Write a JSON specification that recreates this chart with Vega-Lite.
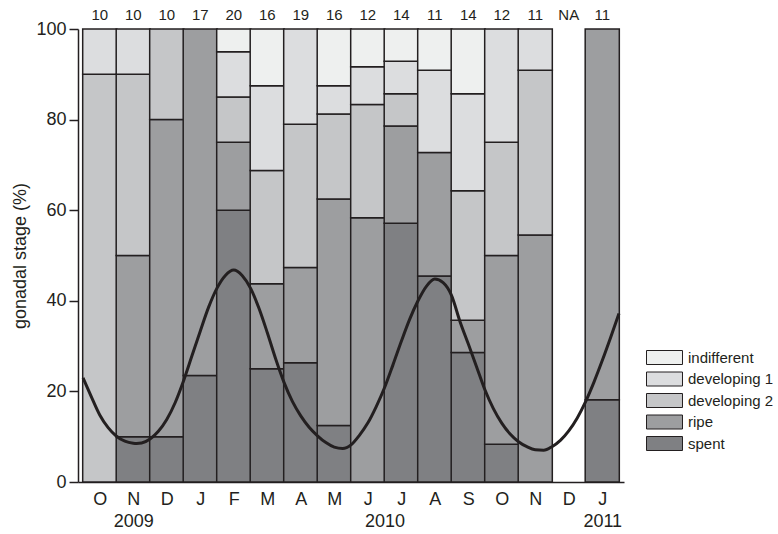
{
  "$schema": "https://vega.github.io/schema/vega-lite/v6.json",
  "width": 546,
  "height": 453,
  "autosize": {"type": "none"},
  "padding": {"left": 78, "top": 29, "right": 154, "bottom": 52},
  "background": "white",
  "config": {
    "font": "Liberation Sans",
    "view": {"stroke": null},
    "axis": {
      "labelFont": "Liberation Sans",
      "titleFont": "Liberation Sans",
      "labelColor": "#231f20",
      "titleColor": "#231f20",
      "domainColor": "#231f20",
      "tickColor": "#231f20",
      "grid": false,
      "labelFontSize": 18,
      "titleFontSize": 18,
      "titleFontWeight": "normal"
    },
    "legend": {"labelFont": "Liberation Sans"}
  },
  "datasets": {
    "stages": [
      {"month_no": 0, "stage": "developing 2", "stage_no": 3, "count": 9},
      {"month_no": 0, "stage": "developing 1", "stage_no": 2, "count": 1},
      {"month_no": 1, "stage": "spent", "stage_no": 5, "count": 1},
      {"month_no": 1, "stage": "ripe", "stage_no": 4, "count": 4},
      {"month_no": 1, "stage": "developing 2", "stage_no": 3, "count": 4},
      {"month_no": 1, "stage": "developing 1", "stage_no": 2, "count": 1},
      {"month_no": 2, "stage": "spent", "stage_no": 5, "count": 1},
      {"month_no": 2, "stage": "ripe", "stage_no": 4, "count": 7},
      {"month_no": 2, "stage": "developing 2", "stage_no": 3, "count": 2},
      {"month_no": 3, "stage": "spent", "stage_no": 5, "count": 4},
      {"month_no": 3, "stage": "ripe", "stage_no": 4, "count": 13},
      {"month_no": 4, "stage": "spent", "stage_no": 5, "count": 12},
      {"month_no": 4, "stage": "ripe", "stage_no": 4, "count": 3},
      {"month_no": 4, "stage": "developing 2", "stage_no": 3, "count": 2},
      {"month_no": 4, "stage": "developing 1", "stage_no": 2, "count": 2},
      {"month_no": 4, "stage": "indifferent", "stage_no": 1, "count": 1},
      {"month_no": 5, "stage": "spent", "stage_no": 5, "count": 4},
      {"month_no": 5, "stage": "ripe", "stage_no": 4, "count": 3},
      {"month_no": 5, "stage": "developing 2", "stage_no": 3, "count": 4},
      {"month_no": 5, "stage": "developing 1", "stage_no": 2, "count": 3},
      {"month_no": 5, "stage": "indifferent", "stage_no": 1, "count": 2},
      {"month_no": 6, "stage": "spent", "stage_no": 5, "count": 5},
      {"month_no": 6, "stage": "ripe", "stage_no": 4, "count": 4},
      {"month_no": 6, "stage": "developing 2", "stage_no": 3, "count": 6},
      {"month_no": 6, "stage": "developing 1", "stage_no": 2, "count": 4},
      {"month_no": 7, "stage": "spent", "stage_no": 5, "count": 2},
      {"month_no": 7, "stage": "ripe", "stage_no": 4, "count": 8},
      {"month_no": 7, "stage": "developing 2", "stage_no": 3, "count": 3},
      {"month_no": 7, "stage": "developing 1", "stage_no": 2, "count": 1},
      {"month_no": 7, "stage": "indifferent", "stage_no": 1, "count": 2},
      {"month_no": 8, "stage": "ripe", "stage_no": 4, "count": 7},
      {"month_no": 8, "stage": "developing 2", "stage_no": 3, "count": 3},
      {"month_no": 8, "stage": "developing 1", "stage_no": 2, "count": 1},
      {"month_no": 8, "stage": "indifferent", "stage_no": 1, "count": 1},
      {"month_no": 9, "stage": "spent", "stage_no": 5, "count": 8},
      {"month_no": 9, "stage": "ripe", "stage_no": 4, "count": 3},
      {"month_no": 9, "stage": "developing 2", "stage_no": 3, "count": 1},
      {"month_no": 9, "stage": "developing 1", "stage_no": 2, "count": 1},
      {"month_no": 9, "stage": "indifferent", "stage_no": 1, "count": 1},
      {"month_no": 10, "stage": "spent", "stage_no": 5, "count": 5},
      {"month_no": 10, "stage": "ripe", "stage_no": 4, "count": 3},
      {"month_no": 10, "stage": "developing 1", "stage_no": 2, "count": 2},
      {"month_no": 10, "stage": "indifferent", "stage_no": 1, "count": 1},
      {"month_no": 11, "stage": "spent", "stage_no": 5, "count": 4},
      {"month_no": 11, "stage": "ripe", "stage_no": 4, "count": 1},
      {"month_no": 11, "stage": "developing 2", "stage_no": 3, "count": 4},
      {"month_no": 11, "stage": "developing 1", "stage_no": 2, "count": 3},
      {"month_no": 11, "stage": "indifferent", "stage_no": 1, "count": 2},
      {"month_no": 12, "stage": "spent", "stage_no": 5, "count": 1},
      {"month_no": 12, "stage": "ripe", "stage_no": 4, "count": 5},
      {"month_no": 12, "stage": "developing 2", "stage_no": 3, "count": 3},
      {"month_no": 12, "stage": "developing 1", "stage_no": 2, "count": 3},
      {"month_no": 13, "stage": "ripe", "stage_no": 4, "count": 6},
      {"month_no": 13, "stage": "developing 2", "stage_no": 3, "count": 4},
      {"month_no": 13, "stage": "developing 1", "stage_no": 2, "count": 1},
      {"month_no": 15, "stage": "spent", "stage_no": 5, "count": 2},
      {"month_no": 15, "stage": "ripe", "stage_no": 4, "count": 9}
    ],
    "totals": [
      {"month_no": 0, "n": "10"}, {"month_no": 1, "n": "10"}, {"month_no": 2, "n": "10"},
      {"month_no": 3, "n": "17"}, {"month_no": 4, "n": "20"}, {"month_no": 5, "n": "16"},
      {"month_no": 6, "n": "19"}, {"month_no": 7, "n": "16"}, {"month_no": 8, "n": "12"},
      {"month_no": 9, "n": "14"}, {"month_no": 10, "n": "11"}, {"month_no": 11, "n": "14"},
      {"month_no": 12, "n": "12"}, {"month_no": 13, "n": "11"}, {"month_no": 14, "n": "NA"},
      {"month_no": 15, "n": "11"}
    ],
    "curve": [
      {"month_no": -0.5, "value": 23}, {"month_no": -0.25, "value": 18.8},
      {"month_no": 0.0, "value": 14.8}, {"month_no": 0.25, "value": 12.0},
      {"month_no": 0.5, "value": 10.1}, {"month_no": 0.75, "value": 9.0},
      {"month_no": 1.0, "value": 8.55}, {"month_no": 1.1, "value": 8.5},
      {"month_no": 1.25, "value": 8.6}, {"month_no": 1.5, "value": 9.5},
      {"month_no": 1.75, "value": 11.2}, {"month_no": 2.0, "value": 13.8},
      {"month_no": 2.25, "value": 17.5}, {"month_no": 2.5, "value": 22.3},
      {"month_no": 2.75, "value": 27.8}, {"month_no": 3.0, "value": 33.3},
      {"month_no": 3.25, "value": 38.6}, {"month_no": 3.5, "value": 42.8},
      {"month_no": 3.75, "value": 45.6}, {"month_no": 4.0, "value": 46.8},
      {"month_no": 4.25, "value": 45.6}, {"month_no": 4.5, "value": 42.8},
      {"month_no": 4.75, "value": 38.4}, {"month_no": 5.0, "value": 33.0},
      {"month_no": 5.25, "value": 27.2}, {"month_no": 5.5, "value": 22.0},
      {"month_no": 5.75, "value": 17.8}, {"month_no": 6.0, "value": 14.6},
      {"month_no": 6.25, "value": 12.1}, {"month_no": 6.5, "value": 10.2},
      {"month_no": 6.75, "value": 8.7}, {"month_no": 7.0, "value": 7.7},
      {"month_no": 7.25, "value": 7.4}, {"month_no": 7.5, "value": 8.2},
      {"month_no": 7.75, "value": 10.3}, {"month_no": 8.0, "value": 13.0},
      {"month_no": 8.25, "value": 16.6}, {"month_no": 8.5, "value": 20.8},
      {"month_no": 8.75, "value": 25.8}, {"month_no": 9.0, "value": 31.0},
      {"month_no": 9.25, "value": 35.9}, {"month_no": 9.5, "value": 40.0},
      {"month_no": 9.75, "value": 43.2}, {"month_no": 10.0, "value": 44.8},
      {"month_no": 10.25, "value": 44.0}, {"month_no": 10.5, "value": 41.2},
      {"month_no": 10.75, "value": 35.5}, {"month_no": 11.0, "value": 30.5},
      {"month_no": 11.25, "value": 25.4}, {"month_no": 11.5, "value": 20.3},
      {"month_no": 11.75, "value": 16.2}, {"month_no": 12.0, "value": 13.0},
      {"month_no": 12.25, "value": 10.6}, {"month_no": 12.5, "value": 8.9},
      {"month_no": 12.75, "value": 7.8}, {"month_no": 13.0, "value": 7.1},
      {"month_no": 13.25, "value": 7.0}, {"month_no": 13.5, "value": 7.8},
      {"month_no": 13.75, "value": 9.2}, {"month_no": 14.0, "value": 11.3},
      {"month_no": 14.25, "value": 14.1}, {"month_no": 14.5, "value": 17.7},
      {"month_no": 14.75, "value": 22.0}, {"month_no": 15.0, "value": 26.8},
      {"month_no": 15.25, "value": 31.9}, {"month_no": 15.5, "value": 37.2}
    ]
  },
  "layer": [
    {
      "data": {"name": "stages"},
      "mark": {"type": "bar", "width": 34.125, "stroke": "#231f20", "strokeWidth": 1.5},
      "encoding": {
        "x": {
          "field": "month_no", "type": "quantitative",
          "scale": {"domain": [-0.5, 15.5], "nice": false, "zero": false},
          "axis": {
            "values": [0, 1, 2, 3, 4, 5, 6, 7, 8, 9, 10, 11, 12, 13, 14, 15],
            "labelExpr": "['O','N','D','J','F','M','A','M','J','J','A','S','O','N','D','J'][datum.value]",
            "ticks": false, "domainWidth": 1.5, "labelPadding": 8, "title": null, "labelFlush": false
          }
        },
        "y": {
          "field": "count", "type": "quantitative", "stack": "normalize",
          "scale": {"domain": [0, 1], "nice": false},
          "axis": {
            "values": [0, 0.2, 0.4, 0.6, 0.8, 1],
            "labelExpr": "format(datum.value * 100, 'd')",
            "title": "gonadal stage (%)", "tickSize": 9, "tickWidth": 1.5,
            "domainWidth": 1.5, "labelPadding": 3, "titlePadding": 6
          }
        },
        "color": {
          "field": "stage", "type": "nominal",
          "scale": {
            "domain": ["indifferent", "developing 1", "developing 2", "ripe", "spent"],
            "range": ["#eef0ef", "#dcdddf", "#c5c6c8", "#9d9ea0", "#7f8083"]
          },
          "legend": {
            "orient": "none", "legendX": 579, "legendY": 321, "title": null,
            "symbolType": "M-2.571,-1H2.571V1H-2.571Z", "symbolSize": 196,
            "symbolStrokeColor": "#231f20", "symbolStrokeWidth": 1,
            "labelFontSize": 15, "labelOffset": 16, "rowPadding": 2.5,
            "labelColor": "#231f20", "padding": 0, "symbolOpacity": 1
          }
        },
        "order": {"field": "stage_no", "sort": "descending"}
      }
    },
    {
      "data": {"name": "totals"},
      "mark": {"type": "text", "fontSize": 15, "baseline": "alphabetic", "dy": -9, "color": "#231f20"},
      "encoding": {
        "x": {"field": "month_no", "type": "quantitative", "scale": {"domain": [-0.5, 15.5], "nice": false, "zero": false}, "axis": null},
        "y": {"datum": 1, "type": "quantitative", "scale": {"domain": [0, 1], "nice": false}, "axis": null},
        "text": {"field": "n", "type": "nominal"}
      }
    },
    {
      "data": {"name": "curve"},
      "mark": {"type": "line", "color": "#231f20", "strokeWidth": 3, "interpolate": "monotone"},
      "encoding": {
        "x": {
          "field": "month_no", "type": "quantitative",
          "scale": {"domain": [-0.5, 15.5], "nice": false, "zero": false},
          "axis": {
            "orient": "bottom", "values": [1, 8.5, 15],
            "labelExpr": "datum.value == 1 ? '2009' : datum.value == 15 ? '2011' : '2010'",
            "ticks": false, "domain": false, "labelPadding": 30, "title": null
          }
        },
        "y": {"field": "value", "type": "quantitative", "scale": {"domain": [0, 100], "nice": false}, "axis": null}
      }
    }
  ],
  "resolve": {"scale": {"y": "independent"}, "axis": {"x": "independent", "y": "independent"}}
}
